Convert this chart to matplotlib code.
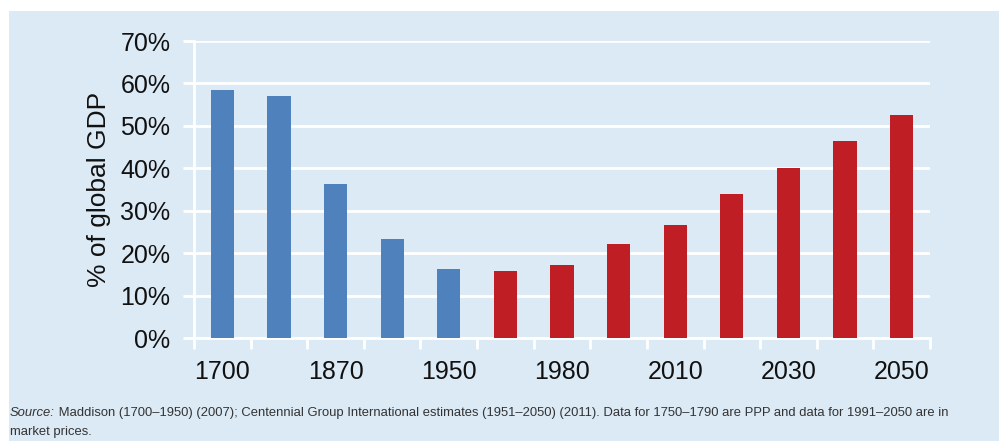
import matplotlib.pyplot as plt
from matplotlib.patches import Rectangle
from matplotlib.ticker import FuncFormatter
import numpy as np

# share of global GDP, one bar per period
years = ["1700", "", "1870", "", "1950", "", "1980", "", "2010", "", "2030", "", "2050"]
share = [58.5, 57.1, 36.2, 23.3, 16.3, 15.7, 17.1, 22.1, 26.6, 34.0, 40.0, 46.4, 52.6]
projected = [False] * 5 + [True] * 8

BLUE = "#4f81bd"
RED = "#be1e24"
PANEL = "#dceaf5"

plt.rcParams["font.family"] = ["Liberation Sans", "DejaVu Sans"]

fig = plt.figure(figsize=(9.99, 4.41), dpi=100)
fig.patch.set_facecolor("white")
fig.patches.append(Rectangle((9 / 999, 0), 1, 1 - 11 / 441, transform=fig.transFigure,
                             facecolor=PANEL, edgecolor="none", zorder=-10))

ax = fig.add_axes([194 / 999, 1 - 338 / 441, (930 - 194) / 999, (338 - 41) / 441])
ax.set_facecolor(PANEL)
ax.patch.set_alpha(0)

x = np.arange(len(share))
colors = [RED if p else BLUE for p in projected]
ax.bar(x, share, width=0.41, color=colors, zorder=3)

ax.set_xlim(-0.5, len(share) - 0.5)
ax.set_ylim(0, 70)
ax.set_yticks(np.arange(0, 71, 10))
ax.yaxis.set_major_formatter(FuncFormatter(lambda v, p: f"{v:.0f}%"))
ax.grid(axis="y", color="white", linewidth=2, zorder=1)

# tick marks between categories, labels at the centres
ax.set_xticks(np.arange(-0.5, len(share), 1.0))
ax.set_xticklabels([])
ax.set_xticks(x, minor=True)
ax.set_xticklabels(years, minor=True)
ax.tick_params(axis="x", which="major", direction="out", length=8, width=2, color="white")
ax.tick_params(axis="x", which="minor", length=0, pad=16, labelsize=18, labelcolor="#111111")
ax.tick_params(axis="y", direction="out", length=8, width=2, color="white", pad=9,
               labelsize=18, labelcolor="#111111")

for side in ["top", "right"]:
    ax.spines[side].set_visible(False)
for side in ["left", "bottom"]:
    ax.spines[side].set_color("white")
    ax.spines[side].set_linewidth(2)

ax.set_ylabel("% of global GDP", fontsize=19, color="#111111", labelpad=7)

src_size = 9.4
src = fig.text(10 / 999, 1 - 416 / 441, "Source:", style="italic", fontsize=src_size,
               color="#333333", va="baseline")
ax.annotate(" Maddison (1700\u20131950) (2007); Centennial Group International estimates "
            "(1951\u20132050) (2011). Data for 1750\u20131790 are PPP and data for "
            "1991\u20132050 are in",
            xy=(1, 0), xycoords=src, va="bottom", ha="left", fontsize=src_size,
            color="#333333", annotation_clip=False)
fig.text(10 / 999, 1 - 435 / 441, "market prices.", fontsize=src_size,
         color="#333333", va="baseline")

fig.savefig("out.png", dpi=100, facecolor=fig.get_facecolor())
